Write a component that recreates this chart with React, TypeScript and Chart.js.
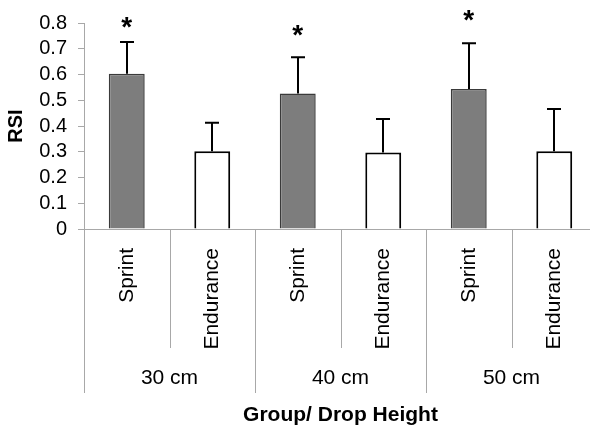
import React, { useEffect, useRef } from "react";
import { Chart, registerables } from "chart.js";

Chart.register(...registerables);

const categories = ["Sprint", "Endurance", "Sprint", "Endurance", "Sprint", "Endurance"];
const dropHeights = ["30 cm", "40 cm", "50 cm"];
const rsiMeans = [0.603, 0.302, 0.526, 0.297, 0.544, 0.302];
const rsiSD = [0.123, 0.111, 0.141, 0.13, 0.177, 0.164];
const starLevels: (number | null)[] = [0.81, null, 0.78, null, 0.837, null];
const yTickLabels = ["0", "0.1", "0.2", "0.3", "0.4", "0.5", "0.6", "0.7", "0.8"];

const FONT = "'Liberation Sans', Arial, Helvetica, sans-serif";
const AXIS_GREY = "#a8a8a8";

const groupPlugin = {
  id: "groupLabels",
  afterDraw(chart: any) {
    const { ctx } = chart;
    const xs = chart.scales.x;
    const n = categories.length;
    const top = xs.top;
    ctx.save();
    ctx.strokeStyle = AXIS_GREY;
    ctx.lineWidth = 1;
    for (let i = 0; i <= n; i++) {
      let bx: number;
      if (i === 0) bx = xs.left;
      else if (i === n) bx = xs.right;
      else bx = (xs.getPixelForValue(i - 1) + xs.getPixelForValue(i)) / 2;
      const long = i % 2 === 0;
      const px = Math.round(bx) + 0.5;
      ctx.beginPath();
      ctx.moveTo(px, top);
      ctx.lineTo(px, top + (long ? 164 : 119));
      ctx.stroke();
    }
    ctx.fillStyle = "#000";
    ctx.font = `21px ${FONT}`;
    ctx.textAlign = "center";
    ctx.textBaseline = "middle";
    dropHeights.forEach((g, gi) => {
      const cx = (xs.getPixelForValue(gi * 2) + xs.getPixelForValue(gi * 2 + 1)) / 2;
      ctx.fillText(g, cx, top + 149);
    });
    ctx.restore();
  },
};

const errorPlugin = {
  id: "errorBars",
  afterDatasetsDraw(chart: any) {
    const { ctx } = chart;
    const ys = chart.scales.y;
    const meta = chart.getDatasetMeta(0);
    ctx.save();
    ctx.strokeStyle = "#000";
    ctx.lineWidth = 2;
    meta.data.forEach((el: any, i: number) => {
      const x = Math.round(el.x);
      const yBar = ys.getPixelForValue(rsiMeans[i]);
      const yErr = ys.getPixelForValue(rsiMeans[i] + rsiSD[i]);
      ctx.beginPath();
      ctx.moveTo(x, yBar);
      ctx.lineTo(x, yErr);
      ctx.moveTo(x - 7, yErr);
      ctx.lineTo(x + 7, yErr);
      ctx.stroke();
      const s = starLevels[i];
      if (s !== null) {
        ctx.fillStyle = "#000";
        ctx.font = `bold 28px ${FONT}`;
        ctx.textAlign = "center";
        ctx.textBaseline = "alphabetic";
        ctx.fillText("*", el.x, ys.getPixelForValue(s) + 16);
      }
    });
    ctx.restore();
  },
};

export default function App() {
  const ref = useRef<HTMLCanvasElement | null>(null);

  useEffect(() => {
    if (!ref.current) return;
    const chart = new Chart(ref.current, {
      type: "bar",
      data: {
        labels: categories,
        datasets: [
          {
            data: rsiMeans,
            backgroundColor: categories.map((c) => (c === "Sprint" ? "#7d7d7d" : "#ffffff")),
            borderColor: categories.map((c) => (c === "Sprint" ? "#3a3a3a" : "#000000")),
            borderWidth: categories.map((c) => (c === "Sprint" ? 1.5 : 2)),
            barPercentage: 0.42,
            categoryPercentage: 1,
          },
        ],
      },
      options: {
        responsive: false,
        animation: false,
        devicePixelRatio: 1,
        layout: { padding: { top: 22, right: 1, bottom: 0, left: 0 } },
        plugins: { legend: { display: false }, tooltip: { enabled: false } },
        scales: {
          x: {
            type: "category",
            offset: true,
            grid: { display: false },
            border: { display: true, color: AXIS_GREY, width: 1 },
            ticks: {
              autoSkip: false,
              maxRotation: 90,
              minRotation: 90,
              padding: 11,
              color: "#000",
              font: { family: FONT, size: 21 },
            },
            title: {
              display: true,
              text: "Group/ Drop Height",
              color: "#000",
              font: { family: FONT, size: 21, weight: "bold" },
              padding: { top: 0, bottom: 1 },
            },
            afterFit: (scale: any) => {
              scale.height = 200;
            },
          },
          y: {
            min: 0,
            max: 0.8,
            ticks: {
              stepSize: 0.1,
              autoSkip: false,
              padding: 11,
              color: "#000",
              font: { family: FONT, size: 20 },
              callback: (_v: any, i: number) => yTickLabels[i],
            },
            grid: {
              drawOnChartArea: false,
              drawTicks: true,
              tickLength: 6,
              color: AXIS_GREY,
            },
            border: { display: true, color: AXIS_GREY, width: 1 },
            title: {
              display: true,
              text: "RSI",
              color: "#000",
              font: { family: FONT, size: 20, weight: "bold" },
              padding: { top: 4, bottom: 0 },
            },
            afterFit: (scale: any) => {
              scale.width = 84;
            },
          },
        },
      },
      plugins: [groupPlugin, errorPlugin],
    } as any);
    return () => chart.destroy();
  }, []);

  return (
    <div
      style={{
        position: "fixed",
        left: 0,
        top: 0,
        width: 590,
        height: 429,
        overflow: "hidden",
        background: "#fff",
      }}
    >
      <canvas ref={ref} width={598} height={429} style={{ display: "block" }} />
    </div>
  );
}
